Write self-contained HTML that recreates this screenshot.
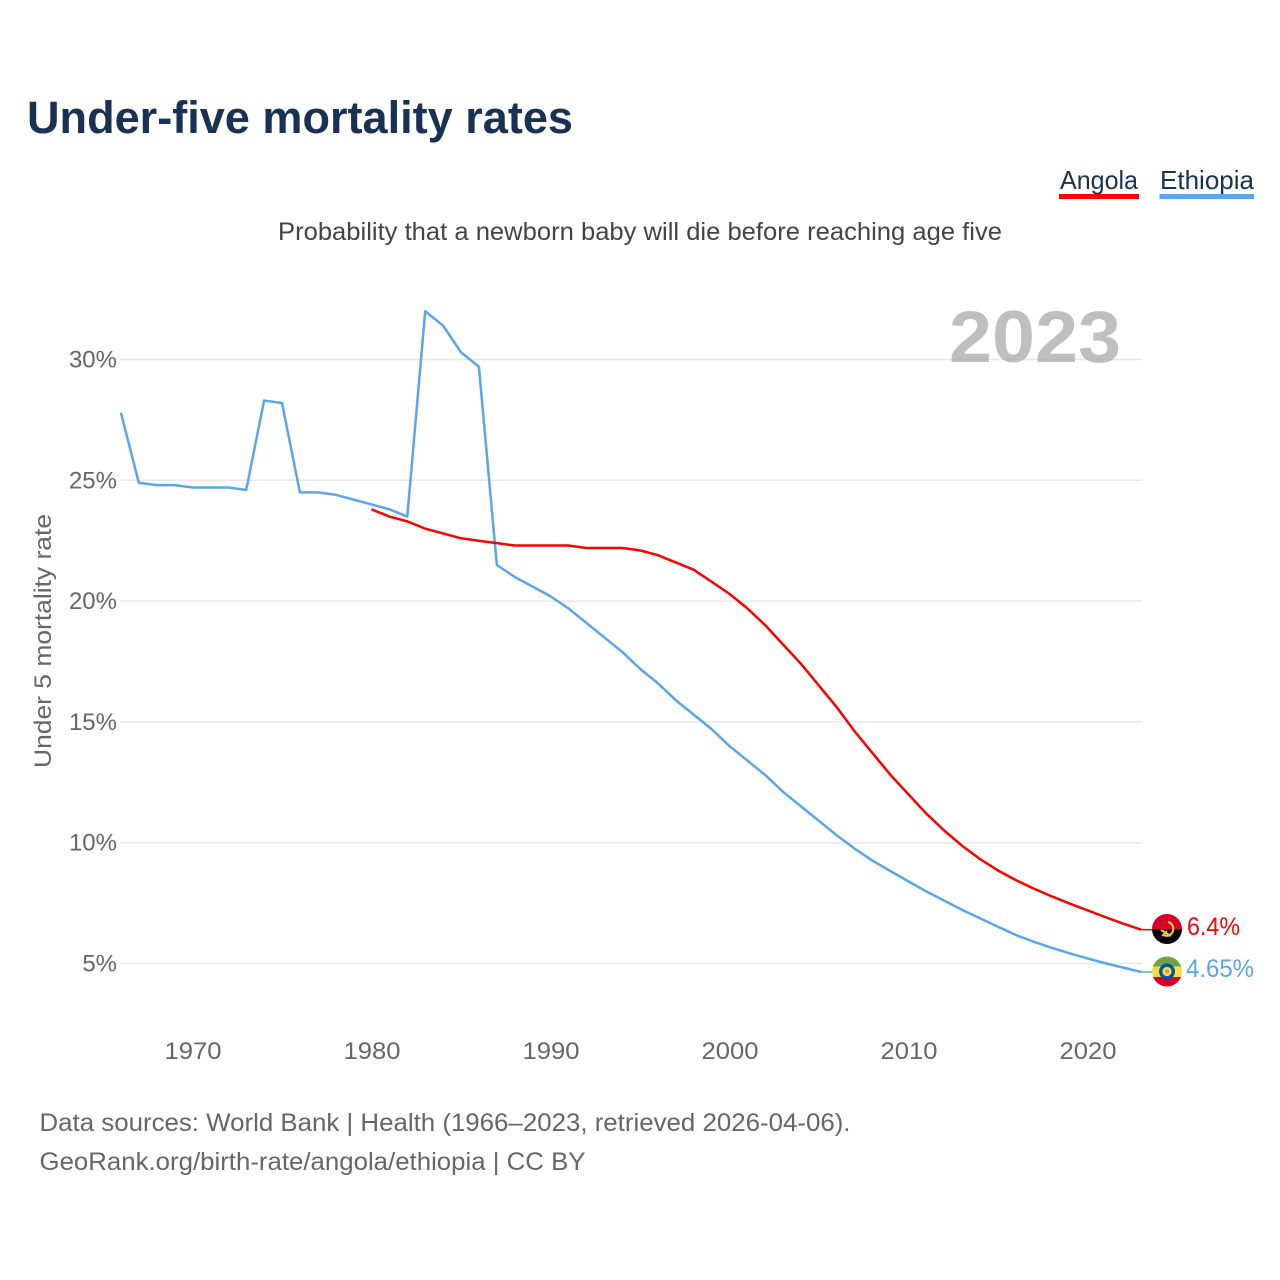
<!DOCTYPE html>
<html lang="en">
<head>
<meta charset="utf-8">
<title>Under-five mortality rates</title>
<style>
html,body{margin:0;padding:0;background:#fff}
svg{display:block}
text{font-family:"Liberation Sans",sans-serif}
</style>
</head>
<body>
<svg id="chart" xmlns="http://www.w3.org/2000/svg" width="1280" height="1280" viewBox="0 0 1280 1280">
  <rect width="1280" height="1280" fill="#fff"/>
  <text x="27" y="133" font-size="45" font-weight="700" fill="#193152" textLength="546" lengthAdjust="spacingAndGlyphs">Under-five mortality rates</text>
  <g>
    <g>
      <text x="1060" y="189" font-size="26" fill="#193152" textLength="78" lengthAdjust="spacingAndGlyphs">Angola</text>
      <rect x="1059" y="194" width="80" height="5" fill="#ff0000"/>
    </g>
    <g>
      <text x="1160" y="189" font-size="26" fill="#193152" textLength="94" lengthAdjust="spacingAndGlyphs">Ethiopia</text>
      <rect x="1159.5" y="194" width="94.5" height="5" fill="#5aa5ee"/>
    </g>
  </g>
  <text x="640" y="240" font-size="25" fill="#444" text-anchor="middle" textLength="724" lengthAdjust="spacingAndGlyphs">Probability that a newborn baby will die before reaching age five</text>
  <g id="grid"></g>
  <text x="1035" y="362" font-size="73" font-weight="700" fill="#aaaaaa" fill-opacity="0.75" text-anchor="middle" textLength="172" lengthAdjust="spacingAndGlyphs">2023</text>
  <g id="yticks"></g>
  <g id="xticks"></g>
  <text transform="translate(51,641) rotate(-90)" font-size="24" fill="#666" text-anchor="middle" textLength="254" lengthAdjust="spacingAndGlyphs">Under 5 mortality rate</text>
  <g id="series"></g>
  <defs>
    <clipPath id="flag-clip-a"><circle cx="1167" cy="929" r="15"/></clipPath>
    <clipPath id="flag-clip-e"><circle cx="1167" cy="971.5" r="15"/></clipPath>
  </defs>
  <g clip-path="url(#flag-clip-a)">
    <rect x="1152" y="914" width="30" height="15" fill="#d80027"/>
    <rect x="1152" y="929" width="30" height="16" fill="#000"/>
    <path d="M1168 922 a7 7 0 0 1 3 12 q-3 3 -7 1" fill="none" stroke="#f5c542" stroke-width="2.2"/>
    <path d="M1161 930 l10 6" fill="none" stroke="#f5c542" stroke-width="2"/>
    <path d="M1162 936 l5 -5" fill="none" stroke="#f5c542" stroke-width="1.6"/>
  </g>
  <g clip-path="url(#flag-clip-e)">
    <rect x="1152" y="956" width="30" height="10.5" fill="#6da544"/>
    <rect x="1152" y="966.5" width="30" height="10.5" fill="#ffda44"/>
    <rect x="1152" y="977" width="30" height="10" fill="#d80027"/>
    <circle cx="1167" cy="971.5" r="8" fill="#0052b4"/>
    <circle cx="1167" cy="971.5" r="4.6" fill="#ffda44"/>
    <circle cx="1167" cy="971.5" r="2.2" fill="#c9a93a"/>
  </g>
  <text x="1187" y="935" font-size="25" fill="#ff0000" textLength="53" lengthAdjust="spacingAndGlyphs">6.4%</text>
  <text x="1186" y="977" font-size="25" fill="#5aa5ee" textLength="68" lengthAdjust="spacingAndGlyphs">4.65%</text>
  <g>
    <text x="39.5" y="1131" font-size="25" fill="#666" textLength="811" lengthAdjust="spacingAndGlyphs">Data sources: World Bank | Health (1966–2023, retrieved 2026-04-06).</text>
    <text x="39.5" y="1170" font-size="25" fill="#666" textLength="546" lengthAdjust="spacingAndGlyphs">GeoRank.org/birth-rate/angola/ethiopia | CC BY</text>
  </g>
</svg>
<script>
const yTickValues = [5, 10, 15, 20, 25, 30];
const xTickYears = [1970, 1980, 1990, 2000, 2010, 2020];
const ethiopiaStartYear = 1966;
const ethiopiaValues = [27.8, 24.9, 24.8, 24.8, 24.7, 24.7, 24.7, 24.6, 28.3, 28.2, 24.5, 24.5, 24.4, 24.2, 24.0, 23.8, 23.5, 32.0, 31.4, 30.3, 29.7, 21.5, 21.0, 20.6, 20.2, 19.7, 19.1, 18.5, 17.9, 17.2, 16.6, 15.9, 15.3, 14.7, 14.0, 13.4, 12.8, 12.1, 11.5, 10.9, 10.3, 9.75, 9.25, 8.82, 8.4, 7.98, 7.6, 7.22, 6.87, 6.52, 6.18, 5.9, 5.65, 5.42, 5.21, 5.01, 4.83, 4.65];
const angolaStartYear = 1980;
const angolaValues = [23.8, 23.5, 23.3, 23.0, 22.8, 22.6, 22.5, 22.4, 22.3, 22.3, 22.3, 22.3, 22.2, 22.2, 22.2, 22.1, 21.9, 21.6, 21.3, 20.8, 20.3, 19.7, 19.0, 18.2, 17.4, 16.5, 15.6, 14.6, 13.7, 12.8, 12.0, 11.2, 10.5, 9.87, 9.32, 8.85, 8.45, 8.1, 7.78, 7.48, 7.2, 6.92, 6.65, 6.4];

const NS = 'http://www.w3.org/2000/svg';
function xScale(year) { return 192.5 + (year - 1970) * 17.9; }
function yScale(pct) { return 963.5 - (pct - 5) * 24.16; }
function make(tag, attrs, text) {
  const el = document.createElementNS(NS, tag);
  Object.keys(attrs).forEach(function (k) { el.setAttribute(k, attrs[k]); });
  if (text !== undefined) el.textContent = text;
  return el;
}

const grid = document.getElementById('grid');
const yticks = document.getElementById('yticks');
yTickValues.forEach(function (v) {
  const line = make('line', { x1: 120, x2: 1142, y1: yScale(v), y2: yScale(v), stroke: '#e8e8e8', 'stroke-width': 1.5 });
  
  
  grid.appendChild(line);
  const label = make('text', { x: 117, y: yScale(v) + 8, 'font-size': 24, fill: '#666', 'text-anchor': 'end' }, v + '%');
  
  
  yticks.appendChild(label);
});

const xticks = document.getElementById('xticks');
xTickYears.forEach(function (yr) {
  const label = make('text', { x: xScale(yr) + 0.5, y: 1059, 'font-size': 24, fill: '#666', 'text-anchor': 'middle', textLength: 57, lengthAdjust: 'spacingAndGlyphs' }, String(yr));
  
  
  xticks.appendChild(label);
});

const series = document.getElementById('series');
function pointsFor(values, startYear) {
  return values.map(function (v, i) {
    return xScale(startYear + i).toFixed(2) + ',' + yScale(v).toFixed(2);
  }).join(' ');
}

const ethiopiaLine = make('polyline', { points: pointsFor(ethiopiaValues, ethiopiaStartYear), fill: 'none', stroke: '#5aa5ee', 'stroke-width': 2.5, 'stroke-linejoin': 'round' });


series.appendChild(ethiopiaLine);

const angolaLine = make('polyline', { points: pointsFor(angolaValues, angolaStartYear), fill: 'none', stroke: '#ff0000', 'stroke-width': 2.5, 'stroke-linejoin': 'round' });


series.appendChild(angolaLine);

const angolaLast = angolaValues[angolaValues.length - 1];
const angolaLeader = make('line', { x1: xScale(2023), x2: 1153, y1: yScale(angolaLast), y2: yScale(angolaLast), stroke: '#ff0000', 'stroke-width': 1.5 });


series.appendChild(angolaLeader);

const ethiopiaLast = ethiopiaValues[ethiopiaValues.length - 1];
const ethiopiaLeader = make('line', { x1: xScale(2023), x2: 1153, y1: yScale(ethiopiaLast), y2: yScale(ethiopiaLast), stroke: '#5aa5ee', 'stroke-width': 1.5 });


series.appendChild(ethiopiaLeader);
</script>
</body>
</html>
